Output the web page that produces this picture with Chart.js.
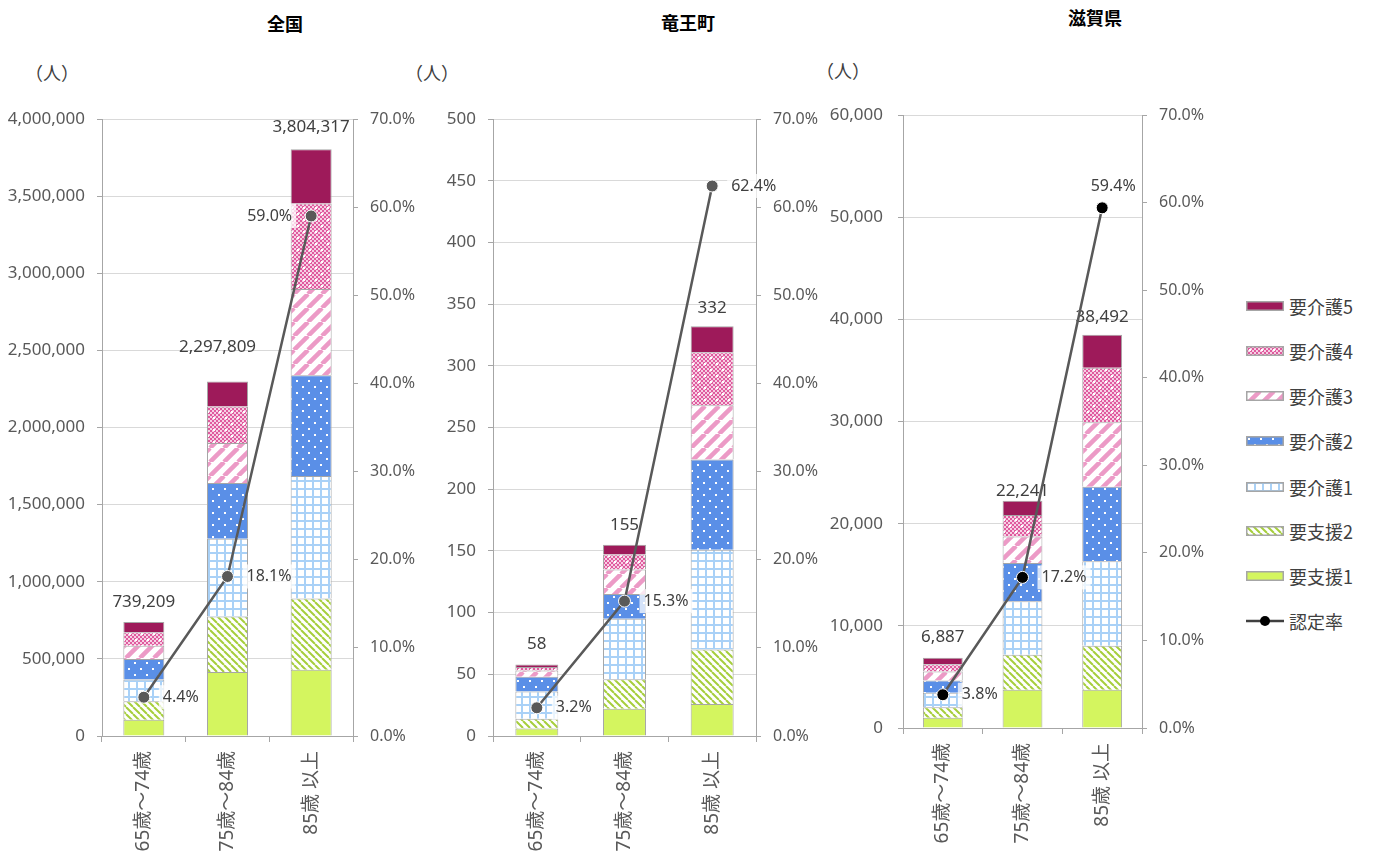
<!DOCTYPE html>
<html lang="ja">
<head>
<meta charset="utf-8">
<title>要介護認定者数と認定率</title>
<script src="https://cdn.jsdelivr.net/npm/chart.js@4"></script>
<style>
  body { margin: 0; background: #fff; }
  #page { position: relative; width: 1379px; height: 853px; overflow: hidden; }
  .title { position: absolute; transform: translate(-50%, -50%); font-family: 'Noto Sans CJK JP'; font-weight: bold; font-size: 18px; color: #000; white-space: nowrap; }
  .unit { position: absolute; transform: translate(-50%, -50%); font-family: 'Noto Sans CJK JP'; font-size: 18px; color: #404040; white-space: nowrap; }
  canvas.chart { position: absolute; top: 0; }
  .row { position: absolute; left: 1246px; display: flex; align-items: center; transform: translateY(-50%); }
  .row canvas { margin-right: 5px; }
  .row span { font-family: 'Noto Sans CJK JP'; font-size: 18px; color: #404040; }
</style>
</head>
<body>
<div id="page">
  <div class="title" style="left:285px; top:23px">全国</div>
  <div class="title" style="left:688px; top:22px">竜王町</div>
  <div class="title" style="left:1095px; top:17px">滋賀県</div>
  <div class="unit" style="left:52px; top:72px">（人）</div>
  <div class="unit" style="left:432px; top:72px">（人）</div>
  <div class="unit" style="left:843px; top:70px">（人）</div>
  <canvas class="chart" id="c1" width="425" height="853" style="left:0px"></canvas>
  <canvas class="chart" id="c2" width="395" height="853" style="left:425px"></canvas>
  <canvas class="chart" id="c3" width="415" height="853" style="left:820px"></canvas>
  <div id="legend"></div>
</div>
<script>
const categories = ['65歳～74歳', '75歳～84歳', '85歳 以上'];
// 下から順に積み上げ
const levelNames = ['要支援1', '要支援2', '要介護1', '要介護2', '要介護3', '要介護4', '要介護5'];

// 全国 (人)  要支援1 … 要介護5
const zenkoku65 = [106000, 120000, 141000, 133000, 85000, 88000, 66209];
const zenkoku75 = [415000, 360000, 503000, 362000, 260000, 236000, 161809];
const zenkoku85 = [430000, 462000, 793000, 653000, 560000, 554000, 352317];
const zenkokuTotals = [739209, 2297809, 3804317];
const zenkokuRates = [4.4, 18.1, 59.0];

// 竜王町 (人)
const ryuoh65 = [6, 8, 22, 12, 5, 3, 2];
const ryuoh75 = [22, 24, 49, 20, 20, 12, 8];
const ryuoh85 = [26, 44, 81, 73, 44, 43, 21];
const ryuohTotals = [58, 155, 332];
const ryuohRates = [3.2, 15.3, 62.4];

// 滋賀県 (人)
const shiga65 = [1000, 1040, 1400, 1200, 880, 720, 647];
const shiga75 = [3750, 3420, 5230, 3740, 2610, 2090, 1401];
const shiga85 = [3740, 4300, 8270, 7310, 6300, 5340, 3232];
const shigaTotals = [6887, 22241, 38492];
const shigaRates = [3.8, 17.2, 59.4];

// 軸の目盛り
const zenkokuAxis = [0, 4000000, 500000];
const ryuohAxis = [0, 500, 50];
const shigaAxis = [0, 60000, 10000];
const rateAxis = [0, 70, 10];

const numFont = "'Noto Sans', 'Noto Sans CJK JP', sans-serif";
const gridGray = '#A6A6A6';

function pattern(size, draw) {
  const c = document.createElement('canvas');
  c.width = size; c.height = size;
  const g = c.getContext('2d');
  draw(g, size);
  return g.createPattern(c, 'repeat');
}

function stripes(g, s, bg, fg, lw, dir) {
  g.fillStyle = bg; g.fillRect(0, 0, s, s);
  g.strokeStyle = fg; g.lineWidth = lw;
  for (const o of [-s, 0, s]) {
    g.beginPath();
    if (dir === '\\') { g.moveTo(o, 0); g.lineTo(o + s, s); }
    else { g.moveTo(o, s); g.lineTo(o + s, 0); }
    g.stroke();
  }
}

const fills = [
  '#D4F55F',
  pattern(7, (g, s) => stripes(g, s, '#fff', '#A6CE3C', 2, '\\')),
  pattern(8, (g, s) => {
    g.fillStyle = '#fff'; g.fillRect(0, 0, s, s);
    g.fillStyle = '#A9D1F7'; g.fillRect(0, 0, s, 2); g.fillRect(0, 0, 2, s);
  }),
  pattern(12, (g, s) => {
    g.fillStyle = '#5A8FE7'; g.fillRect(0, 0, s, s);
    g.fillStyle = '#fff'; g.fillRect(2, 2, 2, 2); g.fillRect(8, 8, 2, 2);
  }),
  pattern(14, (g, s) => stripes(g, s, '#fff', '#EC9AC6', 4.5, '/')),
  pattern(12, (g, s) => {
    for (let i = 0; i < s; i += 2) for (let j = 0; j < s; j += 2) {
      g.fillStyle = ((i + j) / 2) % 2 ? '#F6D0E4' : '#E05A9E';
      g.fillRect(i, j, 2, 2);
    }
    g.fillStyle = '#fff'; g.fillRect(3, 3, 2, 2); g.fillRect(9, 9, 2, 2);
  }),
  '#9E1A5A'
];

// 合計値と認定率のラベル
function labelPlugin(o) {
  return {
    id: 'valueLabels',
    beforeDatasetsDraw(chart) {
      const ctx = chart.ctx, xs = chart.scales.x, ys = chart.scales.y;
      ctx.save();
      ctx.font = '17px ' + numFont;
      ctx.fillStyle = '#404040';
      ctx.textAlign = 'center';
      ctx.textBaseline = 'middle';
      o.totals.forEach((t, i) => {
        const x = xs.getPixelForValue(i) + o.totalOffsets[i][0];
        const y = ys.getPixelForValue(t) + o.totalOffsets[i][1];
        ctx.fillText(t.toLocaleString('en-US'), x, y);
      });
      ctx.restore();
    },
    afterDatasetsDraw(chart) {
      const ctx = chart.ctx, xs = chart.scales.x, y1 = chart.scales.y1;
      ctx.save();
      ctx.font = '16px ' + numFont;
      ctx.textBaseline = 'middle';
      o.rates.forEach((r, i) => {
        const px = xs.getPixelForValue(i), py = y1.getPixelForValue(r);
        const text = r.toFixed(1) + '%';
        const w = ctx.measureText(text).width;
        let x, y = py, left;
        if (o.ratePlace[i] === 'left') { x = px - 19; left = x - w; }
        else if (o.ratePlace[i] === 'top') { x = px + 11 - w / 2; y = py - 21; left = x; }
        else { x = px + 19; left = x; }
        ctx.fillStyle = 'rgba(255,255,255,0.75)';
        ctx.fillRect(left - 4, y - 12, w + 8, 24);
        ctx.fillStyle = '#404040';
        ctx.textAlign = 'left';
        ctx.fillText(text, left, y);
      });
      ctx.restore();
    }
  };
}

function buildChart(id, rows, o) {
  const datasets = levelNames.map((name, li) => ({
    label: name,
    data: rows.map(r => r[li]),
    backgroundColor: fills[li],
    borderColor: gridGray,
    borderWidth: 1,
    categoryPercentage: 1,
    barPercentage: o.barPct,
    order: 1
  }));
  datasets.push({
    type: 'line',
    label: '認定率',
    data: o.rates,
    yAxisID: 'y1',
    borderColor: '#595959',
    borderWidth: 2.5,
    pointRadius: 6,
    pointBackgroundColor: o.dot,
    pointBorderColor: '#fff',
    pointBorderWidth: 1,
    tension: 0,
    order: 0
  });

  new Chart(document.getElementById(id), {
    type: 'bar',
    data: { labels: categories, datasets: datasets },
    options: {
      responsive: false,
      animation: false,
      layout: { padding: { top: o.top, left: 0, right: 0, bottom: 0 } },
      plugins: { legend: { display: false }, tooltip: { enabled: false } },
      scales: {
        x: {
          stacked: true,
          grid: { drawOnChartArea: false, tickLength: 6, color: gridGray, offset: true },
          border: { color: gridGray },
          ticks: {
            minRotation: 90, maxRotation: 90, autoSkip: false, padding: 9,
            color: '#595959', font: { family: numFont, size: 19 }
          },
          afterFit: s => { s.height = o.xh; }
        },
        y: {
          stacked: true,
          min: o.axis[0], max: o.axis[1],
          ticks: {
            stepSize: o.axis[2], padding: o.lpad, color: '#595959',
            font: { family: numFont, size: 17 },
            callback: v => v.toLocaleString('en-US')
          },
          grid: { color: '#D9D9D9', tickLength: 5, tickColor: gridGray },
          border: { color: gridGray },
          afterFit: s => { s.width = o.lw; }
        },
        y1: {
          position: 'right',
          min: rateAxis[0], max: rateAxis[1],
          ticks: {
            stepSize: rateAxis[2], padding: o.rpad, color: '#595959',
            font: { family: numFont, size: 16 },
            callback: v => v.toFixed(1) + '%'
          },
          grid: { drawOnChartArea: false, tickLength: 5, color: gridGray },
          border: { color: gridGray },
          afterFit: s => { s.width = o.rw; }
        }
      }
    },
    plugins: [labelPlugin(o)]
  });
}

buildChart('c1', [zenkoku65, zenkoku75, zenkoku85], {
  axis: zenkokuAxis, totals: zenkokuTotals, rates: zenkokuRates,
  totalOffsets: [[0, -20], [-10, -34], [0, -22]], ratePlace: ['right', 'right', 'left'],
  top: 119, xh: 117, lw: 102, rw: 72, lpad: 12, rpad: 12, barPct: 0.49, dot: '#595959'
});
buildChart('c2', [ryuoh65, ryuoh75, ryuoh85], {
  axis: ryuohAxis, totals: ryuohTotals, rates: ryuohRates,
  totalOffsets: [[0, -20], [0, -20], [0, -18]], ratePlace: ['right', 'right', 'right'],
  top: 119, xh: 117, lw: 68, rw: 64, lpad: 12, rpad: 12, barPct: 0.49, dot: '#595959'
});
buildChart('c3', [shiga65, shiga75, shiga85], {
  axis: shigaAxis, totals: shigaTotals, rates: shigaRates,
  totalOffsets: [[0, -20], [0, -10], [0, -18]], ratePlace: ['right', 'right', 'top'],
  top: 115, xh: 125, lw: 83, rw: 93, lpad: 15, rpad: 12, barPct: 0.5, dot: '#000'
});

// 凡例 (要介護5 が上)
const legend = document.getElementById('legend');
const legendY = [306, 351, 396, 441, 487, 531, 576, 621];
levelNames.slice().reverse().forEach((name, k) => {
  const li = levelNames.length - 1 - k;
  const row = document.createElement('div');
  row.className = 'row';
  row.style.top = legendY[k] + 'px';
  const sw = document.createElement('canvas');
  sw.width = 38; sw.height = 10;
  const g = sw.getContext('2d');
  g.fillStyle = fills[li]; g.fillRect(0, 0, 38, 10);
  g.strokeStyle = gridGray; g.lineWidth = 1.5; g.strokeRect(0.75, 0.75, 36.5, 8.5);
  const t = document.createElement('span');
  t.textContent = name;
  row.appendChild(sw); row.appendChild(t);
  legend.appendChild(row);
});
(function () {
  const row = document.createElement('div');
  row.className = 'row';
  row.style.top = legendY[7] + 'px';
  const sw = document.createElement('canvas');
  sw.width = 38; sw.height = 14;
  const g = sw.getContext('2d');
  g.strokeStyle = '#404040'; g.lineWidth = 2.5;
  g.beginPath(); g.moveTo(0, 7); g.lineTo(38, 7); g.stroke();
  g.fillStyle = '#000'; g.beginPath(); g.arc(19, 7, 5, 0, Math.PI * 2); g.fill();
  const t = document.createElement('span');
  t.textContent = '認定率';
  row.appendChild(sw); row.appendChild(t);
  legend.appendChild(row);
})();
</script>
</body>
</html>
